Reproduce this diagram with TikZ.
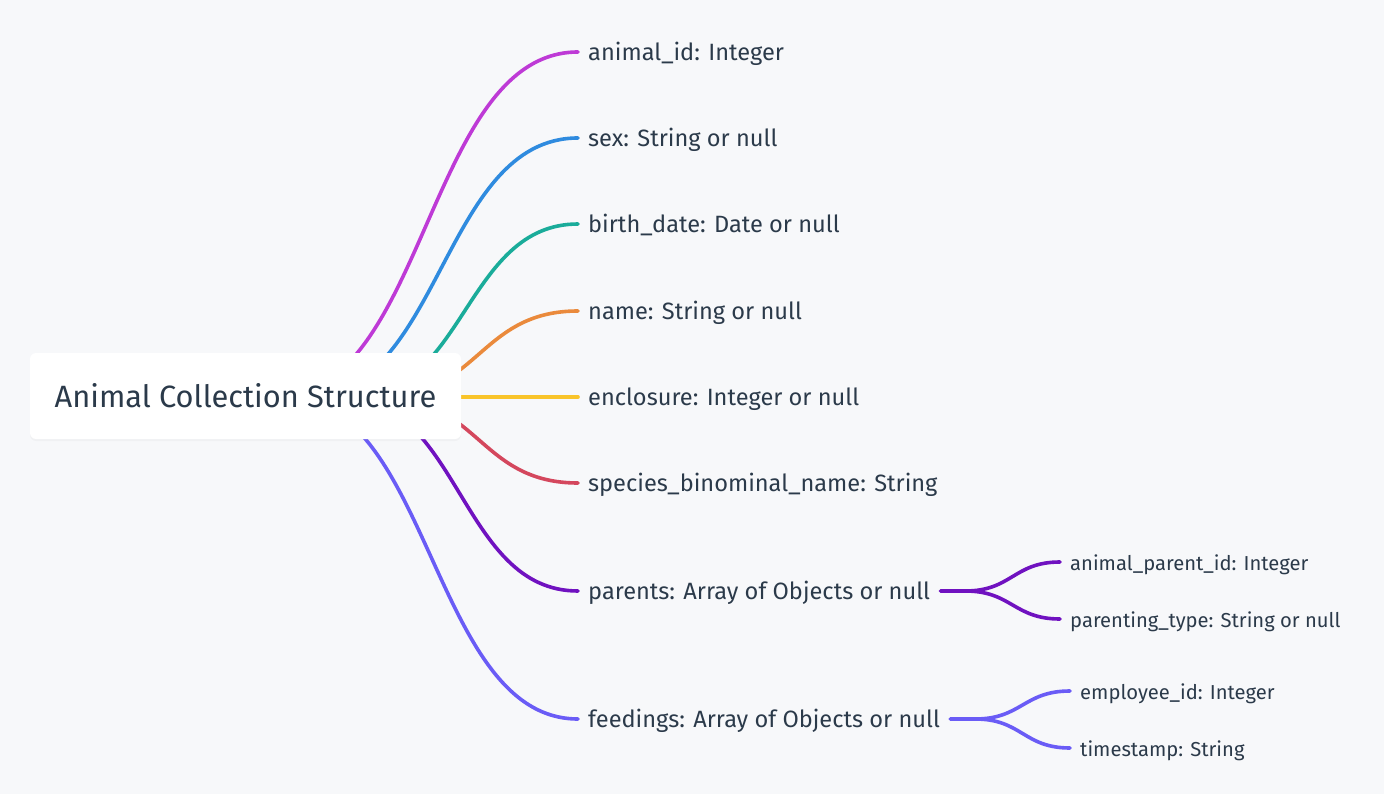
\documentclass[tikz,border=0pt]{standalone}
\usepackage{fontspec}
\setmainfont{Fira Sans}
\usetikzlibrary{shadows}
\definecolor{bg}{HTML}{F7F8FA}
\definecolor{txt}{HTML}{2B3A4A}
\definecolor{cA}{HTML}{BE3AD6}
\definecolor{cB}{HTML}{2F8BDF}
\definecolor{cC}{HTML}{1AAC9A}
\definecolor{cD}{HTML}{EA8A3C}
\definecolor{cE}{HTML}{F9C42A}
\definecolor{cF}{HTML}{D4475D}
\definecolor{cG}{HTML}{7012C0}
\definecolor{cH}{HTML}{6A5CF6}
\tikzset{
  link/.style={line width=3.6pt, line cap=round},
  lbl/.style={anchor=west, inner xsep=10pt, inner ysep=0pt, text height=17pt, text depth=0pt,
    text=txt, font=\fontsize{23.6}{27}\selectfont},
  sublbl/.style={anchor=west, inner xsep=10pt, inner ysep=0pt, text height=17pt, text depth=0pt,
    text=txt, font=\fontsize{20.2}{24}\selectfont},
  rootbox/.style={rectangle, rounded corners=6pt, fill=white, minimum width=431pt, minimum height=86pt,
    text=txt, font=\fontsize{30.8}{34}\selectfont,
    drop shadow={opacity=0.05, shadow xshift=0pt, shadow yshift=-2pt}}
}
\begin{document}
\begin{tikzpicture}[x=1pt, y=-1pt]
\fill[bg] (0,0) rectangle (1384,794);
\useasboundingbox (0,0) rectangle (1384,794);

% labels
\node[lbl] (l1) at (578,52) {animal\_id: Integer};
\node[lbl] (l2) at (578,138) {sex: String or null};
\node[lbl] (l3) at (578,224) {birth\_date: Date or null};
\node[lbl] (l4) at (578,311) {name: String or null};
\node[lbl] (l5) at (578,397) {enclosure: Integer or null};
\node[lbl] (l6) at (578,483) {species\_binominal\_name: String};
\node[lbl] (l7) at (578,591) {parents: Array of Objects or null};
\node[lbl] (l8) at (578,719) {feedings: Array of Objects or null};

\node[sublbl] (p1) at (1060,562) {animal\_parent\_id: Integer};
\node[sublbl] (p2) at (1060,619) {parenting\_type: String or null};
\node[sublbl] (f1) at (1070,691) {employee\_id: Integer};
\node[sublbl] (f2) at (1070,748) {timestamp: String};

% hidden sources behind root
\coordinate (s1) at (275,397);
\coordinate (s2) at (305,397);
\coordinate (s3) at (352,397);
\coordinate (s4) at (380,397);
\coordinate (s5) at (400,397);
\coordinate (s6) at (380,397);
\coordinate (s7) at (342,397);
\coordinate (s8) at (285,397);

\draw[link, cA] (s1) .. controls (426.5,397) and (426.5,52) .. (l1.west);
\draw[link, cB] (s2) .. controls (441.5,397) and (441.5,138) .. (l2.west);
\draw[link, cC] (s3) .. controls (465,397) and (465,224) .. (l3.west);
\draw[link, cD] (s4) .. controls (479,397) and (479,311) .. (l4.west);
\draw[link, cE] (s5) -- (l5.west);
\draw[link, cF] (s6) .. controls (479,397) and (479,483) .. (l6.west);
\draw[link, cG] (s7) .. controls (460,397) and (460,591) .. (l7.west);
\draw[link, cH] (s8) .. controls (431.5,397) and (431.5,719) .. (l8.west);

% sub links
\draw[link, cG] (l7.east) -- ++(25,0) coordinate (j7) to[out=0, in=180, looseness=1.2] (p1.west);
\draw[link, cG] (j7) to[out=0, in=180, looseness=1.2] (p2.west);
\draw[link, cH] (l8.east) -- ++(25,0) coordinate (j8) to[out=0, in=180, looseness=1.2] (f1.west);
\draw[link, cH] (j8) to[out=0, in=180, looseness=1.2] (f2.west);

% root
\node[rootbox] (root) at (245.5,396) {Animal Collection Structure};
\end{tikzpicture}
\end{document}
